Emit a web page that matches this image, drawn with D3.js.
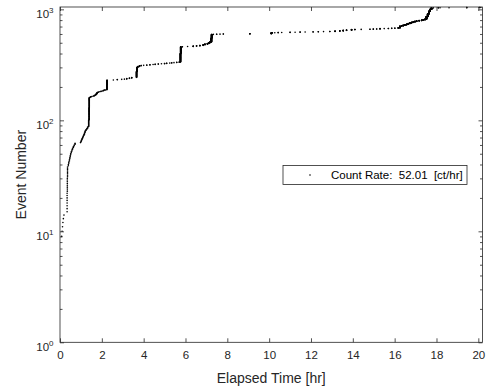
<!DOCTYPE html>
<html>
<head>
<meta charset="utf-8">
<script src="https://cdn.jsdelivr.net/npm/d3@7"></script>
<style>
  body { margin: 0; background: #fff; }
  svg { display: block; font-family: "Liberation Sans", Arial, Helvetica, sans-serif; }
</style>
</head>
<body>
<div id="wrapper"></div>
<script>
// 1. Data
// events come in groups: when the group happened [hr] and how many events it holds
const groupTime = [
  0.08, 0.10, 0.12, 0.14, 0.16, 0.19, 0.34, 0.35, 0.36, 0.40,
  0.42, 0.45, 0.47, 0.49, 0.51, 0.54, 0.57, 0.60, 0.64, 0.68,
  0.72, 0.98, 1.00, 1.02, 1.05, 1.08, 1.11, 1.14, 1.17, 1.20,
  1.24, 1.28, 1.32, 1.37, 1.39, 1.40, 1.43, 1.47, 1.52, 1.58,
  1.63, 1.67, 1.70, 1.74, 1.78, 1.83, 1.90, 1.96, 2.02, 2.08,
  2.15, 2.24, 2.25, 2.55, 2.74, 2.95, 3.08, 3.19, 3.32, 3.43,
  3.66, 3.68, 3.72, 3.80, 3.88, 4.00, 4.15, 4.30, 4.45, 4.55,
  4.70, 4.85, 5.00, 5.10, 5.25, 5.34, 5.45, 5.58, 5.70, 5.76,
  5.77, 5.85, 6.10, 6.37, 6.53, 6.69, 6.85, 6.93, 7.05, 7.12,
  7.17, 7.24, 7.25, 7.33, 7.49, 7.65, 7.81, 9.08, 10.10, 10.15,
  10.27, 10.43, 10.60, 11.00, 11.24, 11.48, 11.72, 12.10, 12.35, 12.60,
  12.90, 13.15, 13.38, 13.54, 13.70, 13.94, 14.10, 14.40, 14.82, 14.98,
  15.14, 15.30, 15.50, 15.70, 15.86, 16.01, 16.17, 16.25, 16.33, 16.41,
  16.49, 16.57, 16.65, 16.73, 16.81, 16.89, 16.97, 17.05, 17.17, 17.29,
  17.37, 17.45, 17.52, 17.58, 17.64, 17.70, 17.76, 17.85, 18.09, 18.17,
  18.60, 19.45, 20.05, 20.12
]
const groupSize = [
  1, 1, 1, 1, 1, 1, 8, 8, 8, 2,
  2, 2, 2, 2, 2, 2, 2, 2, 2, 2,
  2, 1, 1, 2, 2, 2, 2, 2, 3, 3,
  2, 2, 3, 13, 30, 30, 1, 2, 1, 1,
  2, 1, 2, 4, 4, 2, 1, 2, 1, 2,
  2, 20, 22, 1, 2, 1, 1, 3, 2, 3,
  32, 25, 5, 5, 2, 1, 2, 2, 1, 2,
  2, 1, 2, 2, 1, 2, 1, 2, 2, 65,
  59, 2, 1, 4, 3, 4, 7, 6, 6, 8,
  8, 42, 44, 1, 2, 1, 2, 3, 9, 3,
  1, 2, 1, 2, 1, 2, 1, 2, 2, 1,
  2, 4, 4, 6, 4, 6, 3, 1, 2, 2,
  2, 4, 1, 2, 2, 2, 4, 23, 7, 8,
  7, 8, 10, 11, 8, 8, 8, 8, 5, 6,
  8, 9, 45, 50, 50, 40, 30, 1, 2, 1,
  1, 2, 2, 1
]
const firstEvent = 9   // earlier events sit under the left axis

const xTicks = [0, 2, 4, 6, 8, 10, 12, 14, 16, 18, 20]
const yTicks = [1, 10, 100, 1000]
const legendLabel = "Count Rate:  52.01  [ct/hr]"
const xLabel = "Elapsed Time [hr]"
const yLabel = "Event Number"

// every event gets its running number
const events = []
let count = firstEvent
groupTime.forEach((t, i) => {
  for (let k = 0; k < groupSize[i]; k++) events.push({ t: t, n: count++ })
})

// 2. Dimensions
const dimensions = {
  width: 487,
  height: 391,
  margin: { top: 7, right: 4.5, bottom: 48.7, left: 60 },
}
dimensions.boundedWidth = dimensions.width - dimensions.margin.left - dimensions.margin.right
dimensions.boundedHeight = dimensions.height - dimensions.margin.top - dimensions.margin.bottom

const axisColor = "#262626"

// 3. Canvas
const svg = d3.select("#wrapper").append("svg")
  .attr("width", dimensions.width)
  .attr("height", dimensions.height)

const bounds = svg.append("g")
  .attr("transform", `translate(${dimensions.margin.left},${dimensions.margin.top})`)

// 4. Scales
const xScale = d3.scaleLinear()
  .domain([0, 20.2])
  .range([0, dimensions.boundedWidth])

const yScale = d3.scaleLog()
  .domain([1, 1050])
  .range([dimensions.boundedHeight, 0])

const minorTicks = yScale.ticks().filter(d => !yTicks.includes(d))

// 5. Data
bounds.append("g").selectAll("circle")
  .data(events)
  .join("circle")
    .attr("cx", d => xScale(d.t))
    .attr("cy", d => yScale(d.n))
    .attr("r", 0.8)
    .attr("fill", "#000")

// 6. Peripherals
const styleAxis = g => {
  g.attr("font-family", null).attr("font-size", null)
  g.select(".domain").remove()
  g.selectAll("line").attr("stroke", axisColor).attr("stroke-width", 0.8)
  g.selectAll("text").attr("fill", axisColor).style("font-size", "11.5px")
}

bounds.append("g")
  .attr("transform", `translate(0,${dimensions.boundedHeight})`)
  .call(d3.axisBottom(xScale).tickValues(xTicks).tickSizeInner(-4).tickSizeOuter(0).tickPadding(9))
  .call(styleAxis)

bounds.append("g")
  .call(d3.axisTop(xScale).tickValues(xTicks).tickSizeInner(-4).tickSizeOuter(0).tickFormat(""))
  .call(styleAxis)

const yAxis = bounds.append("g")
  .call(d3.axisLeft(yScale).tickValues(yTicks).tickSizeInner(-4).tickSizeOuter(0).tickFormat(""))
  .call(styleAxis)

yAxis.selectAll(".tick").append("text")
    .attr("x", -6.5)
    .attr("y", 8.5)
    .attr("text-anchor", "end")
    .attr("fill", axisColor)
    .style("font-size", "11.5px")
  .call(t => t.append("tspan").text("10"))
  .call(t => t.append("tspan")
    .attr("dy", -5.5)
    .style("font-size", "8px")
    .text(d => Math.round(Math.log10(d))))

bounds.append("g")
  .call(d3.axisLeft(yScale).tickValues(minorTicks).tickSizeInner(-2.5).tickSizeOuter(0).tickFormat(""))
  .call(styleAxis)

bounds.append("g")
  .attr("transform", `translate(${dimensions.boundedWidth},0)`)
  .call(d3.axisRight(yScale).tickValues(yTicks).tickSizeInner(-4).tickSizeOuter(0).tickFormat(""))
  .call(styleAxis)

bounds.append("g")
  .attr("transform", `translate(${dimensions.boundedWidth},0)`)
  .call(d3.axisRight(yScale).tickValues(minorTicks).tickSizeInner(-2.5).tickSizeOuter(0).tickFormat(""))
  .call(styleAxis)

// box around the axes
bounds.append("rect")
  .attr("width", dimensions.boundedWidth)
  .attr("height", dimensions.boundedHeight)
  .attr("fill", "none")
  .attr("stroke", axisColor)
  .attr("stroke-width", 0.8)

// axis labels
bounds.append("text")
  .attr("x", dimensions.boundedWidth / 2)
  .attr("y", dimensions.boundedHeight + 40.5)
  .attr("text-anchor", "middle")
  .attr("fill", axisColor)
  .style("font-size", "14px")
  .text(xLabel)

svg.append("text")
  .attr("transform", `translate(26,${dimensions.margin.top + dimensions.boundedHeight / 2}) rotate(-90)`)
  .attr("text-anchor", "middle")
  .attr("fill", axisColor)
  .style("font-size", "14px")
  .text(yLabel)

// legend
const legend = svg.append("g")
  .attr("transform", "translate(283,165.5)")

legend.append("rect")
  .attr("width", 184)
  .attr("height", 19)
  .attr("fill", "#fff")
  .attr("stroke", axisColor)
  .attr("stroke-width", 0.8)

legend.append("circle")
  .attr("cx", 27)
  .attr("cy", 9.5)
  .attr("r", 0.8)
  .attr("fill", "#000")

legend.append("text")
  .attr("x", 48)
  .attr("y", 13.6)
  .attr("fill", "#000")
  .style("font-size", "11.5px")
  .style("white-space", "pre")
  .text(legendLabel)
</script>
</body>
</html>
